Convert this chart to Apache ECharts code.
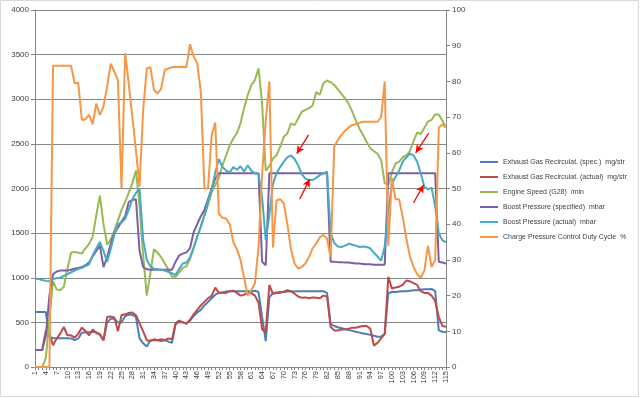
<!DOCTYPE html>
<html>
<head>
<meta charset="utf-8">
<script src="https://cdn.jsdelivr.net/npm/echarts/dist/echarts.min.js"></script>
<style>
  html, body { margin: 0; padding: 0; background: #fff; }
  #chart { width: 640px; height: 398px; }
</style>
</head>
<body>
<div id="chart"></div>
<script>
// x categories 1..115
const categories = Array.from({ length: 115 }, (_, i) => String(i + 1))

// left axis (mg/str, /min, mbar)
const egrSpec = [617,617,617,617,330,325,322,322,322,322,320,300,320,385,390,390,395,390,360,300,
  500,540,540,500,500,570,585,585,560,320,265,230,300,300,300,290,300,285,270,480,
  505,500,490,520,570,610,640,690,730,770,810,830,835,845,850,850,850,850,850,850,
  850,855,840,560,290,780,830,835,840,840,845,845,845,848,850,850,850,850,850,850,
  850,830,480,460,445,435,425,415,405,395,385,375,370,360,350,340,340,370,830,840,
  840,845,850,850,855,860,860,865,870,870,875,850,410,395,390]
const egrActual = [190,190,190,411,374,243,318,374,448,355,355,329,374,441,404,355,420,380,370,300,
  560,565,555,400,580,590,605,610,580,490,400,300,290,310,300,310,300,320,310,490,
  520,500,485,530,590,640,690,730,770,800,890,830,835,830,850,855,830,800,810,830,
  830,800,720,420,390,920,820,830,830,845,860,850,820,790,775,780,770,780,775,770,
  800,790,450,410,410,420,420,430,440,440,450,460,460,430,240,270,320,370,1010,880,
  890,900,920,970,960,940,920,850,830,830,800,740,560,460,450]
const engineSpeed = [0,0,0,100,550,960,870,860,900,1100,1280,1290,1280,1270,1330,1380,1460,1700,1920,1600,
  1370,1430,1530,1640,1760,1850,1950,2060,2200,1800,1250,800,1050,1320,1280,1230,1160,1090,1010,1010,
  1060,1110,1130,1210,1330,1460,1570,1700,1820,1960,2040,2120,2260,2370,2480,2560,2620,2730,2900,3046,
  3158,3215,3346,2950,2200,2250,2336,2373,2467,2579,2616,2729,2710,2785,2860,2880,2900,2930,3080,3050,
  3180,3210,3190,3160,3110,3060,3010,2950,2860,2760,2670,2600,2520,2450,2420,2390,2320,2060,2040,2180,
  2280,2300,2350,2370,2420,2530,2630,2610,2680,2750,2770,2830,2830,2760,2680]
const boostSpec = [190,190,190,350,800,1040,1070,1080,1080,1080,1090,1100,1110,1120,1140,1170,1240,1300,1360,1120,
  1230,1380,1500,1560,1630,1690,1850,1870,1880,1300,1120,1095,1090,1090,1090,1090,1090,1091,1091,1180,
  1250,1270,1285,1330,1510,1600,1690,1760,1880,2000,2110,2170,2170,2170,2170,2170,2170,2170,2170,2170,
  2170,2170,2170,1180,1140,2170,2170,2170,2170,2170,2170,2170,2170,2170,2170,2170,2170,2170,2170,2170,
  2170,2170,1180,1180,1175,1175,1170,1170,1165,1160,1160,1155,1150,1150,1145,1145,1145,1145,2170,2170,
  2170,2170,2170,2170,2170,2170,2170,2170,2170,2170,2170,2170,1180,1170,1160]
const boostActual = [990,985,975,965,960,985,995,1000,1020,1040,1060,1080,1100,1110,1130,1150,1250,1330,1400,1300,
  1180,1320,1480,1600,1620,1660,1760,1880,1950,2000,1430,1200,1130,1100,1095,1090,1080,1065,1050,1030,
  1100,1160,1170,1230,1340,1460,1580,1700,1850,1990,2180,2330,2240,2200,2180,2240,2210,2250,2190,2260,
  2200,2170,2160,1900,1420,1700,2050,2170,2240,2300,2350,2370,2330,2260,2160,2110,2095,2095,2120,2150,
  2170,2190,1500,1390,1350,1345,1360,1380,1370,1360,1345,1350,1345,1330,1280,1240,1190,1350,1750,2050,
  2130,2200,2300,2350,2390,2370,2300,2170,2020,1990,2010,1800,1500,1420,1400]

// right axis (%)
const dutyCycle = [0,0,0,0,0,84.4,84.4,84.4,84.4,84.4,84.4,79.5,79.6,69.2,69.4,70.6,68,73.8,70.6,73,
  78.5,85,82.7,80.4,50,87.9,79.4,70,60.7,50.5,72,83.6,84,77.6,76.6,78,83.2,83.6,84,84,
  84,84,84,90.4,87,85,77,50,50,65,68.5,43,41.8,41.6,40,35,33,30,25,20,
  21.5,23.4,33.6,54,69,80,33.5,46.7,47,45.8,40,33,29,27.6,28,29,30.8,33.2,34.6,36.3,
  37,36,30.8,61.7,63.6,65,66.2,67.1,67.8,68,68.4,68.7,68.7,68.7,68.7,68.7,70,80,34,53,
  47,47,42,36,31,28,26,25,27,34,28,30,67,68,67]

// red annotation arrows: [fromCategory, fromValue, toCategory, toValue]
const arrows = [
  [76.9, 2600, 73.6, 2390],
  [74.4, 1880, 77.2, 2105],
  [110.2, 2620, 106.6, 2400],
  [106.0, 1840, 108.8, 2040]
]

const names = [
  'Exhaust Gas Recirculat. (spec.)  mg/str',
  'Exhaust Gas Recirculat. (actual)  mg/str',
  'Engine Speed (G28)  /min',
  'Boost Pressure (specified)  mbar',
  'Boost Pressure (actual)  mbar',
  'Charge Pressure Control Duty Cycle  %'
]
const colors = ['#4a7ebb', '#be4b48', '#98b954', '#7d60a0', '#46aac5', '#f79646']
const seriesData = [egrSpec, egrActual, engineSpeed, boostSpec, boostActual, dutyCycle]

const font = "'Liberation Sans', sans-serif"
const gray = '#868686'

const chart = echarts.init(document.getElementById('chart'), null, { renderer: 'canvas' })

const series = seriesData.map((d, i) => ({
  name: names[i],
  type: 'line',
  data: d,
  yAxisIndex: i === 5 ? 1 : 0,
  symbol: 'none',
  lineStyle: { width: 2, color: colors[i] },
  itemStyle: { color: colors[i] },
  animation: false
}))

series.push({
  name: 'arrows',
  type: 'line',
  xAxisIndex: 1,
  yAxisIndex: 0,
  data: [],
  symbol: 'none',
  animation: false,
  markLine: {
    silent: true,
    animation: false,
    symbol: ['none', 'arrow'],
    symbolSize: [6, 8],
    label: { show: false },
    lineStyle: { color: '#ff0000', width: 1.3, type: 'solid' },
    data: arrows.map(a => [{ coord: [a[0], a[1]] }, { coord: [a[2], a[3]] }])
  }
})

chart.setOption({
  backgroundColor: '#fff',
  graphic: [{
    type: 'rect',
    shape: { x: 0.5, y: 0.5, width: 638, height: 396 },
    style: { fill: 'none', stroke: '#d9d9d9', lineWidth: 1 },
    silent: true
  }],
  grid: { left: 35, top: 10, right: 194, bottom: 31, containLabel: false },
  legend: {
    orient: 'vertical',
    left: 475,
    top: 152,
    itemWidth: 18,
    itemHeight: 2,
    itemGap: 5,
    icon: 'rect',
    data: names,
    textStyle: { fontFamily: font, fontSize: 7, color: '#404040', lineHeight: 10 }
  },
  xAxis: [{
    type: 'category',
    data: categories,
    boundaryGap: false,
    axisLine: { lineStyle: { color: gray } },
    axisTick: { interval: 0, length: 3, lineStyle: { color: gray } },
    axisLabel: { interval: 2, rotate: 90, fontSize: 7.5, fontFamily: font, color: '#404040', margin: 4 },
    splitLine: { show: false }
  }, {
    type: 'value',
    min: 1,
    max: 115,
    show: false
  }],
  yAxis: [{
    type: 'value',
    min: 0,
    max: 4000,
    interval: 500,
    axisLine: { show: true, lineStyle: { color: gray } },
    axisTick: { show: true, length: 4, lineStyle: { color: gray } },
    axisLabel: { fontSize: 8, fontFamily: font, color: '#404040', margin: 6, formatter: v => String(v) },
    splitLine: { lineStyle: { color: gray, width: 1 } }
  }, {
    type: 'value',
    min: 0,
    max: 100,
    interval: 10,
    position: 'right',
    axisLine: { show: true, lineStyle: { color: gray } },
    axisTick: { show: true, length: 4, lineStyle: { color: gray } },
    axisLabel: { fontSize: 8, fontFamily: font, color: '#404040', margin: 6 },
    splitLine: { show: false }
  }],
  series: series
})
</script>
</body>
</html>
